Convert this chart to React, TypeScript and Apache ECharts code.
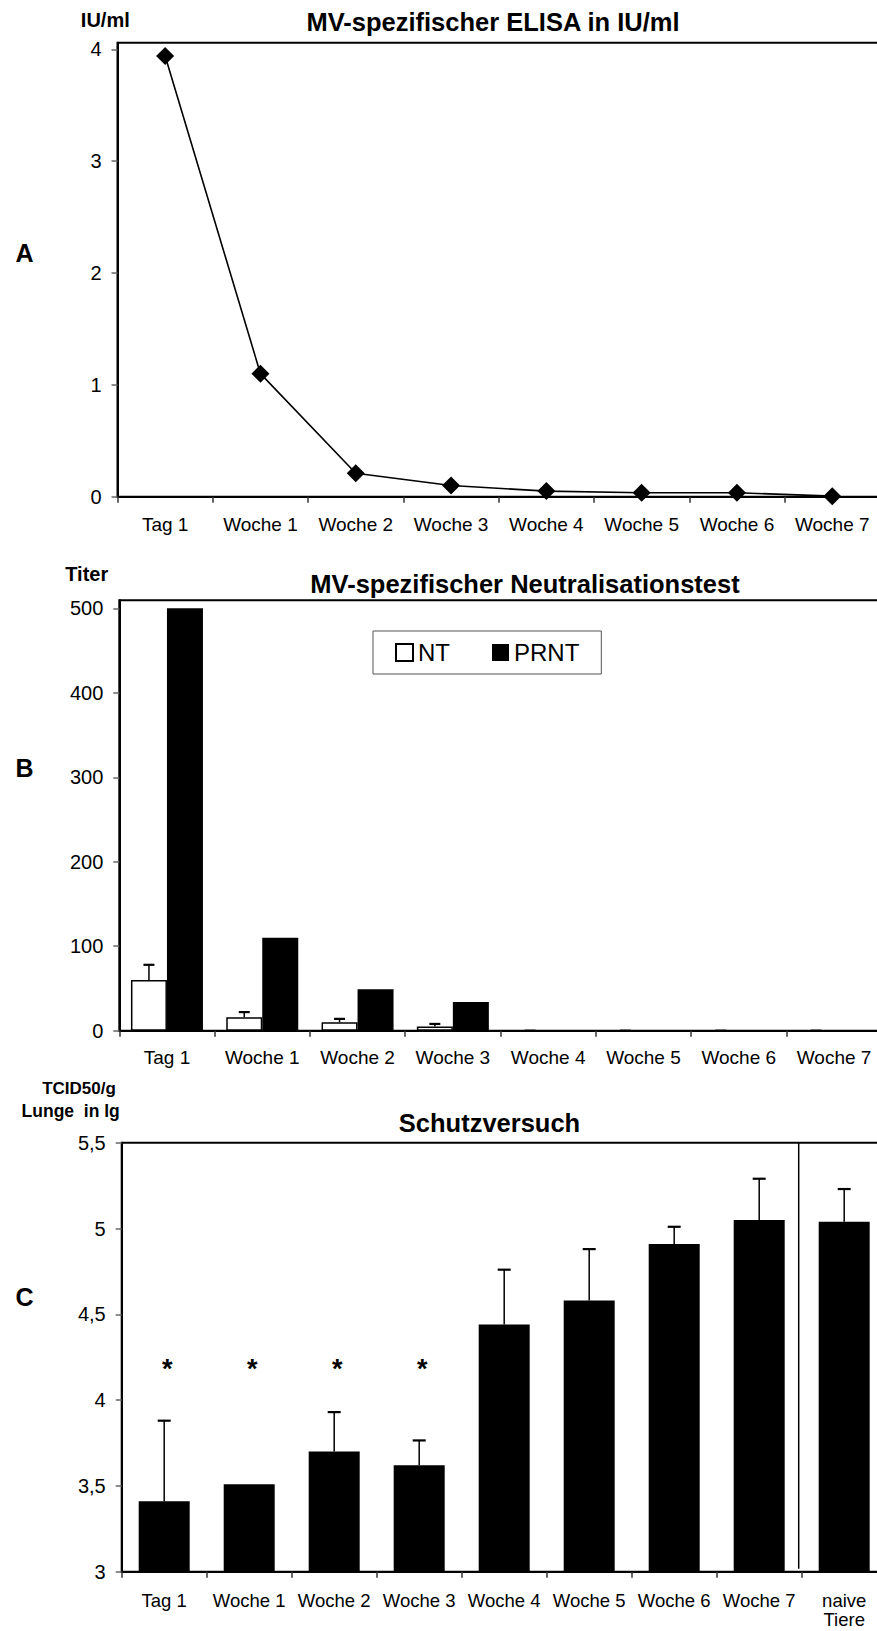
import React, { useEffect, useRef } from "react";
import * as echarts from "echarts";

// Sampling points of the immunisation series
const timePoints = ["Tag 1", "Woche 1", "Woche 2", "Woche 3", "Woche 4", "Woche 5", "Woche 6", "Woche 7"];
const protectionGroups = [...timePoints, "naive\nTiere"];

// A: MV-specific ELISA (IU/ml)
const elisaIU = [3.94, 1.1, 0.21, 0.1, 0.05, 0.035, 0.035, 0.005];
const elisaTicks = [0, 1, 2, 3, 4];
const elisaMax = 4.059;

// B: neutralisation test titres
const ntTiter = [60, 16, 10, 5, 0, 0, 0, 0];
const ntTiterUpper = [78, 22, 14, 8, 0, 0, 0, 0];
const prntTiter = [500, 110, 49, 34, 0, 0, 0, 0];
const titerTicks = [0, 100, 200, 300, 400, 500];
const titerMax = 509.5;

// C: protection experiment, TCID50/g lung (lg)
const lungTiter = [3.41, 3.51, 3.7, 3.62, 4.44, 4.58, 4.91, 5.05, 5.04];
const lungTiterUpper = [3.88, 3.51, 3.93, 3.765, 4.76, 4.88, 5.01, 5.29, 5.23];
const significant = [true, true, true, true, false, false, false, false, false];
const starLevel = 4.18;

const FONT = "'Liberation Sans', Arial, Helvetica, sans-serif";

// plot areas
const GA = { left: 117.5, top: 42.7, width: 762.4, height: 454 };
const GB = { left: 119.3, top: 600.3, width: 762.4, height: 430.4 };
const GC = { left: 121.7, top: 1142.7, width: 765, height: 429 };

const NT_BAR = 36;
const LUNG_BAR = 51;

// Upper error whisker with cap, drawn from the bar top; skipped when there is no spread
function errorBar(offsetPx: number, capPx: number, skipEmpty: boolean) {
  return (params: any, api: any) => {
    const i = api.value(0);
    const mean = api.value(1);
    const upper = api.value(2);
    if (skipEmpty && upper <= mean && mean !== 0) return null;
    const base = api.coord([i, mean]);
    const top = api.coord([i, upper]);
    const x = base[0] + offsetPx;
    return {
      type: "group",
      children: [
        { type: "line", shape: { x1: x, y1: base[1], x2: x, y2: top[1] }, style: { stroke: "#000", lineWidth: 1.5 } },
        { type: "line", shape: { x1: x - capPx / 2, y1: top[1], x2: x + capPx / 2, y2: top[1] }, style: { stroke: "#000", lineWidth: 2.2 } },
      ],
    };
  };
}

function gridOf(g: { left: number; top: number; width: number; height: number }) {
  return {
    ...g,
    show: true,
    borderColor: "#000",
    borderWidth: 2,
    backgroundColor: "transparent",
    containLabel: false,
    outerBoundsMode: "none",
  };
}

function xAxisOf(gridIndex: number, data: string[], fontSize: number, margin: number) {
  return {
    type: "category",
    gridIndex,
    data,
    boundaryGap: true,
    axisLine: { show: true, lineStyle: { color: "#000", width: 2 } },
    axisTick: { show: true, length: 6, lineStyle: { color: "#333", width: 1.5 } },
    axisLabel: { interval: 0, color: "#000", fontFamily: FONT, fontSize, margin, lineHeight: 19 },
    splitLine: { show: false },
  };
}

function yAxisOf(gridIndex: number, min: number, max: number, ticks: number[] | null, interval?: number) {
  const fmt = (v: number) => String(v).replace(".", ",");
  return {
    type: "value",
    gridIndex,
    min,
    max,
    ...(interval ? { interval } : {}),
    axisLine: { show: true, lineStyle: { color: "#000", width: 2 } },
    axisTick: { show: true, length: 6, lineStyle: { color: "#666", width: 1.5 }, ...(ticks ? { customValues: ticks } : {}) },
    axisLabel: { color: "#000", fontFamily: FONT, fontSize: 20, margin: 16, formatter: fmt, ...(ticks ? { customValues: ticks } : {}) },
    splitLine: { show: false },
  };
}

function text(x: number, y: number, t: string, size: number, bold: boolean) {
  return {
    type: "text",
    x,
    y,
    style: {
      text: t,
      fill: "#000",
      font: `${bold ? "bold " : ""}${size}px ${FONT}`,
      textAlign: "center",
      textVerticalAlign: "middle",
    },
  };
}

export default function App() {
  const ref = useRef<HTMLDivElement>(null);

  useEffect(() => {
    if (!ref.current) return;
    const chart = echarts.init(ref.current, null, { renderer: "svg" });

    const sepX = GC.left + (GC.width * 8) / 9 - 3;

    chart.setOption({
      animation: false,
      backgroundColor: "#fff",
      textStyle: { fontFamily: FONT },
      grid: [gridOf(GA), gridOf(GB), gridOf(GC)],
      xAxis: [
        xAxisOf(0, timePoints, 19, 18),
        xAxisOf(1, timePoints, 19, 17),
        xAxisOf(2, protectionGroups, 18.5, 19),
      ],
      yAxis: [
        yAxisOf(0, 0, elisaMax, elisaTicks),
        yAxisOf(1, 0, titerMax, titerTicks),
        yAxisOf(2, 3, 5.5, null, 0.5),
      ],
      legend: {
        data: ["NT", "PRNT"],
        left: 373,
        top: 631,
        orient: "horizontal",
        icon: "rect",
        itemWidth: 17,
        itemHeight: 17,
        itemGap: 42,
        padding: [9.5, 22],
        borderColor: "#555",
        borderWidth: 1,
        backgroundColor: "#fff",
        textStyle: { fontFamily: FONT, fontSize: 24, color: "#000" },
      },
      series: [
        {
          name: "ELISA",
          type: "line",
          xAxisIndex: 0,
          yAxisIndex: 0,
          data: elisaIU,
          symbol: "diamond",
          symbolSize: 18,
          lineStyle: { color: "#000", width: 1.6 },
          itemStyle: { color: "#000" },
        },
        {
          name: "NT",
          type: "bar",
          xAxisIndex: 1,
          yAxisIndex: 1,
          data: ntTiter,
          barWidth: NT_BAR,
          barGap: "0%",
          itemStyle: { color: "#fff", borderColor: "#000", borderWidth: 1.5 },
        },
        {
          name: "PRNT",
          type: "bar",
          xAxisIndex: 1,
          yAxisIndex: 1,
          data: prntTiter,
          barWidth: NT_BAR,
          barGap: "0%",
          itemStyle: { color: "#000" },
        },
        {
          name: "NT-SD",
          type: "custom",
          xAxisIndex: 1,
          yAxisIndex: 1,
          z: 5,
          data: ntTiter.map((v, i) => [i, v, ntTiterUpper[i]]),
          encode: { x: 0, y: [1, 2] },
          renderItem: errorBar(-NT_BAR / 2, 11, false),
        },
        {
          name: "Lunge",
          type: "bar",
          xAxisIndex: 2,
          yAxisIndex: 2,
          data: lungTiter,
          barWidth: LUNG_BAR,
          itemStyle: { color: "#000" },
        },
        {
          name: "Lunge-SD",
          type: "custom",
          xAxisIndex: 2,
          yAxisIndex: 2,
          z: 5,
          data: lungTiter.map((v, i) => [i, v, lungTiterUpper[i]]),
          encode: { x: 0, y: [1, 2] },
          renderItem: errorBar(0, 13, true),
        },
        {
          name: "Signifikanz",
          type: "custom",
          xAxisIndex: 2,
          yAxisIndex: 2,
          z: 5,
          data: significant.map((s, i) => [i, starLevel, s ? 1 : 0]).filter((d) => d[2] === 1),
          encode: { x: 0, y: 1 },
          renderItem: (params: any, api: any) => {
            const p = api.coord([api.value(0), api.value(1)]);
            return {
              type: "text",
              x: p[0] + 3,
              y: p[1],
              style: {
                text: "*",
                fill: "#000",
                font: `bold 27px ${FONT}`,
                textAlign: "center",
                textVerticalAlign: "middle",
              },
            };
          },
        },
      ],
      graphic: [
        text(105.3, 19.5, "IU/ml", 20, true),
        text(493, 22, "MV-spezifischer ELISA in IU/ml", 25.5, true),
        text(24.5, 253, "A", 25, true),
        text(86.7, 573.5, "Titer", 20, true),
        text(525, 584, "MV-spezifischer Neutralisationstest", 25.5, true),
        text(24.5, 768, "B", 25, true),
        text(79, 1088.5, "TCID50/g", 17, true),
        text(70.7, 1111, "Lunge  in lg", 17.5, true),
        text(489.5, 1122.5, "Schutzversuch", 25.5, true),
        text(24.5, 1297, "C", 25, true),
        {
          type: "line",
          shape: { x1: sepX, y1: GC.top, x2: sepX, y2: GC.top + GC.height - 3 },
          style: { stroke: "#000", lineWidth: 1.5 },
        },
      ],
    });

    return () => chart.dispose();
  }, []);

  return (
    <div
      ref={ref}
      style={{ position: "absolute", left: 0, top: 0, width: 877, height: 1631, background: "#fff" }}
    />
  );
}
